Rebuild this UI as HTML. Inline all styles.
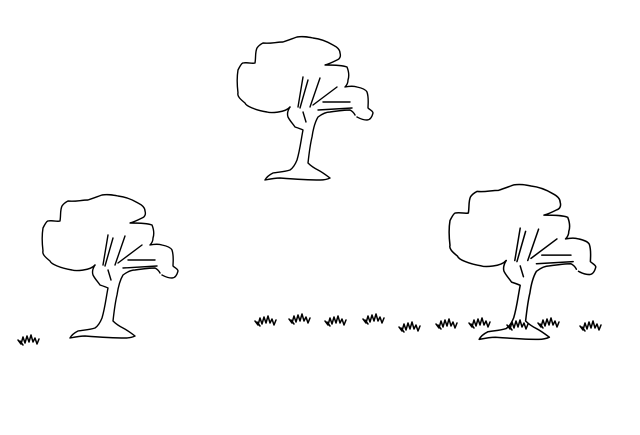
<!DOCTYPE html>
<html><head><meta charset="utf-8"><style>
html,body{margin:0;padding:0;background:#fff;width:640px;height:435px;overflow:hidden}
svg{display:block}
</style></head><body>
<svg width="640" height="435" viewBox="0 0 640 435">
<defs>
<g id="tree" fill="none" stroke="#000" stroke-width="1.4" stroke-linejoin="round" stroke-linecap="round">
<path d="M290,107 C285,113 270,113 267,112 C255,110 246,106 245,103 C240,99 237,96 238,93 C237,85 237,76 238,70 C240,66 242,63 243,63 C248,62 252,64 255,63 C256,57 255,52 257,48 C259,45 261,44 263,43 C270,44 276,42 283,42 C289,40 294,38 297,37 C303,36 308,37 313,38 C322,39 328,42 333,45 C337,47 340,50 340,53 C341,56 340,59 337,60 C333,62 329,64 325,65 C333,65 342,65 347,67 C349,72 349,77 348,80 C348,84 346,86 345,87 C350,86 354,86 357,87 C362,88 366,90 367,92 C369,98 368,104 368,108 C370,110 373,111 373,113 C372,117 370,120 367,120 C362,120 359,118 357,117"/>
<path d="M290,107 C288,110 287,114 288,117 C290,121 293,124 295,127 C298,128 301,129 303,130 C301,140 300,150 297,160 C295,165 293,168 290,170 C284,172 278,172 273,173 C269,175 266,178 265,180 C270,179 275,178 280,178 C293,179 307,180 320,180 C324,180 328,179 330,178 C326,175 322,172 318,170 C314,168 311,166 308,163 C309,154 310,145 312,137 C313,130 315,122 318,117 C322,114 326,112 330,112 C337,111 344,110 350,110 C352,111 354,113 355,115"/>
<path d="M298,107 L303,77 M300,108 L308,80 M310,107 L320,78 M313,105 L337,87 M323,102 L350,102 M318,110 L352,108 M303,112 L306,122"/>
</g>
<g id="tuft" fill="none" stroke="#000" stroke-width="1.5" stroke-linejoin="round" stroke-linecap="round">
<path d="M0,5 L3,9 L5,2 L7,8 L9,1 L11,7 L13,0 L15,7 L17,3 L19,9 L21,4 M2,6 L5,10"/>
</g>
</defs>
<use href="#tree"/>
<use href="#tree" transform="translate(-195,158)"/>
<use href="#tree" transform="translate(212,148) translate(238,38) scale(1.08) translate(-238,-38)"/>
<g>
<use href="#tuft" x="18" y="335"/>
<use href="#tuft" x="255" y="316"/>
<use href="#tuft" x="289" y="314"/>
<use href="#tuft" x="325" y="316"/>
<use href="#tuft" x="363" y="314"/>
<use href="#tuft" x="399" y="322"/>
<use href="#tuft" x="436" y="319"/>
<use href="#tuft" x="469" y="318"/>
<use href="#tuft" x="507" y="320"/>
<use href="#tuft" x="538" y="318"/>
<use href="#tuft" x="580" y="321"/>
</g>
</svg>
</body></html>
